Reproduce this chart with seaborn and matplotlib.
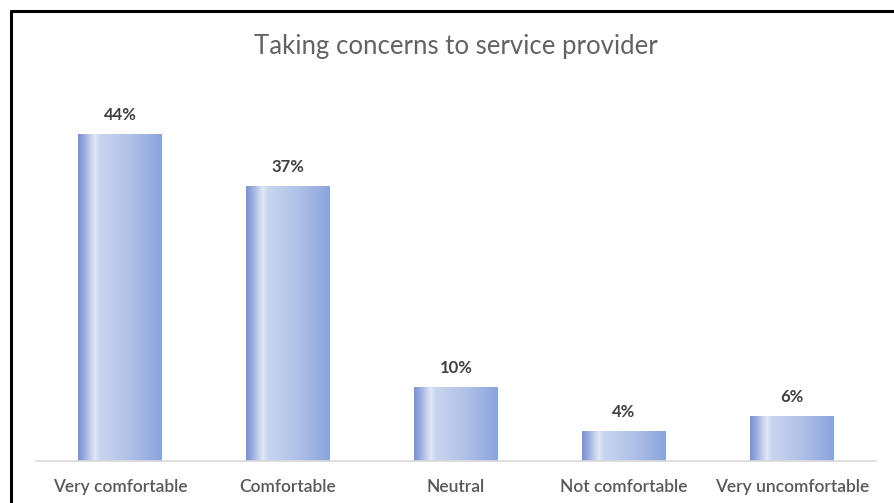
import numpy as np
import pandas as pd
import matplotlib
matplotlib.use("Agg")
import matplotlib.pyplot as plt
import seaborn as sns
from matplotlib.colors import LinearSegmentedColormap
from matplotlib.lines import Line2D

categories = ["Very comfortable", "Comfortable", "Neutral", "Not comfortable", "Very uncomfortable"]
values = [44, 37, 10, 4, 6]
value_labels = ["44%", "37%", "10%", "4%", "6%"]
title = "Taking concerns to service provider"

sns.set_theme(style="white")
plt.rcParams["font.family"] = ["Lato", "DejaVu Sans"]

W, H = 894, 503
fig = plt.figure(figsize=(W / 100, H / 100), dpi=100)
ax = fig.add_axes([36 / W, 1 - 461 / H, 840 / W, 365 / H])

df = pd.DataFrame({"cat": categories, "val": values})
sns.barplot(data=df, x="cat", y="val", ax=ax, width=0.5, color="#8ea9dc", saturation=1)

cmap = LinearSegmentedColormap.from_list(
    "grad",
    [(0.0, "#7891d4"), (0.08, "#9db0e2"), (0.2, "#e0e7f5"), (0.26, "#c9d5ef"),
     (0.6, "#b1c3e8"), (1.0, "#8aa5dc")],
)
grad = np.linspace(0, 1, 256).reshape(1, -1)
for p in ax.patches:
    x0, y0 = p.get_x(), p.get_y()
    w, h = p.get_width(), p.get_height()
    im = ax.imshow(grad, cmap=cmap, aspect="auto", extent=[x0, x0 + w, y0, y0 + h],
                   zorder=p.get_zorder() + 0.1, interpolation="bilinear")
    im.set_clip_path(p)
    p.set_edgecolor("none")

ax.set_xlim(-0.5, 4.5)
ax.set_ylim(0, 49.1)

for i, (v, lab) in enumerate(zip(values, value_labels)):
    ax.annotate(lab, (i, v), xytext=(0, 8), textcoords="offset points",
                ha="center", va="bottom", fontsize=12, fontweight="bold", color="#404040")

ax.set_xlabel("")
ax.set_ylabel("")
ax.set_yticks([])
ax.tick_params(axis="x", length=0, pad=13)
for t in ax.get_xticklabels():
    t.set_fontsize(12.5)
    t.set_color("#595959")
    t.set_fontweight("semibold")
for s in ["top", "right", "left"]:
    ax.spines[s].set_visible(False)
ax.spines["bottom"].set_color("#d9d9d9")
ax.spines["bottom"].set_linewidth(1.2)

fig.text(456 / W, 1 - 46 / H, title, ha="center", va="center", fontsize=18.5, color="#636363")

# outer frame (chart border, cropped at right and bottom)
fig.add_artist(Line2D([11 / W, 1], [1 - 11 / H, 1 - 11 / H], color="black", lw=2.2, transform=fig.transFigure))
fig.add_artist(Line2D([11 / W, 11 / W], [1 - 11 / H, 0], color="black", lw=2.2, transform=fig.transFigure))

fig.savefig("out.png", dpi=100)
